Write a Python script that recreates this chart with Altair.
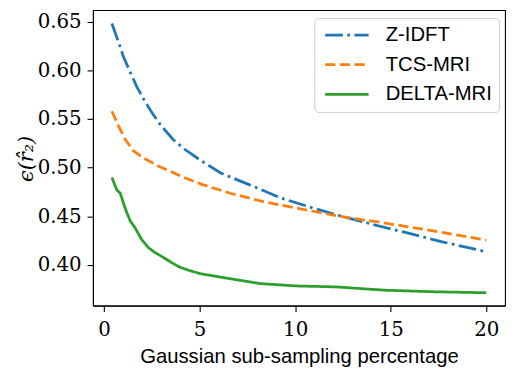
import altair as alt
import pandas as pd

# ---- data ----
series_names = ["Z-IDFT", "TCS-MRI", "DELTA-MRI"]
series_colors = ["#1f77b4", "#ff7f0e", "#2ca02c"]

zidft_x = [0.41, 0.76, 1.02, 1.36, 1.71, 2.14, 2.57, 3.0, 3.6, 4.2, 5.06, 6.1, 7.65, 9.29, 10.93, 12.3, 14.28, 15.92, 17.64, 20.0]
zidft_y = [0.648, 0.6287, 0.6136, 0.5984, 0.5832, 0.568, 0.5545, 0.5427, 0.5292, 0.5191, 0.5073, 0.4945, 0.482, 0.4685, 0.4584, 0.4508, 0.4405, 0.4326, 0.424, 0.4135]

tcs_x = [0.41, 0.76, 1.1, 1.53, 2.05, 2.8, 4.12, 5.15, 6.6, 8.34, 10.06, 12.13, 14.7, 17.3, 20.0]
tcs_y = [0.5579, 0.5427, 0.5292, 0.5174, 0.510, 0.502, 0.4904, 0.4825, 0.4736, 0.465, 0.4584, 0.4506, 0.443, 0.4347, 0.4256]

delta_x = [0.41, 0.67, 0.85, 1.1, 1.36, 1.62, 1.96, 2.31, 2.66, 3.09, 3.51, 3.95, 4.47, 5.06, 6.6, 8.17, 10.06, 12.13, 14.7, 17.3, 20.0]
delta_y = [0.4898, 0.477, 0.4736, 0.4584, 0.4455, 0.4382, 0.4263, 0.4179, 0.4128, 0.4078, 0.4027, 0.3977, 0.3942, 0.3909, 0.3858, 0.3808, 0.3784, 0.3774, 0.374, 0.3724, 0.3714]

x_ticks = [0, 5, 10, 15, 20]
y_ticks = [0.40, 0.45, 0.50, 0.55, 0.60, 0.65]

rows = []
for name, xs, ys in zip(series_names, [zidft_x, tcs_x, delta_x], [zidft_y, tcs_y, delta_y]):
    for xv, yv in zip(xs, ys):
        rows.append({"pct": xv, "err": yv, "method": name})
df = pd.DataFrame(rows)

lw = 2.8
dashes = [[6.4 * lw, 1.6 * lw, 1.0 * lw, 1.6 * lw], [3.7 * lw, 1.6 * lw], [1, 0]]

serif_font = "DejaVu Serif"
sans_font = "Liberation Sans"

chart = (
    alt.Chart(df)
    .mark_line(strokeWidth=lw, strokeCap="butt")
    .encode(
        x=alt.X(
            "pct:Q",
            scale=alt.Scale(domain=[-0.58, 20.98], nice=False, zero=False),
            axis=alt.Axis(
                values=x_ticks,
                format="d",
                title="Gaussian sub-sampling percentage",
                labelBaseline="alphabetic",
                labelPadding=24,
                titleY=58,
                titleBaseline="alphabetic",
                titleFont=sans_font,
                titleFontSize=20.5,
            ),
        ),
        y=alt.Y(
            "err:Q",
            scale=alt.Scale(domain=[0.3582, 0.6618], nice=False, zero=False),
            axis=alt.Axis(
                values=y_ticks,
                format=".2f",
                title="ϵ(r̂₂)",
                labelPadding=6,
                titleX=-67,
                titleY=150,
                titleAngle=-90,
                titleAlign="center",
                titleBaseline="middle",
                titleFont=serif_font,
                titleFontStyle="italic",
                titleFontSize=21,
            ),
        ),
        color=alt.Color(
            "method:N",
            scale=alt.Scale(domain=series_names, range=series_colors),
            legend=alt.Legend(title=None),
        ),
        strokeDash=alt.StrokeDash(
            "method:N",
            scale=alt.Scale(domain=series_names, range=dashes),
            legend=alt.Legend(title=None),
        ),
    )
    .properties(
        width=417,
        height=299,
        autosize=alt.AutoSizeParams(type="none"),
        padding={"left": 86, "top": 0, "right": 2, "bottom": 62},
    )
    .configure_view(stroke="black", strokeWidth=1.1)
    .configure_axis(
        grid=False,
        domainColor="black",
        domainWidth=1.1,
        tickColor="black",
        tickWidth=1.1,
        tickSize=6,
        labelFont=serif_font,
        labelFontSize=20,
        labelColor="black",
        titleColor="black",
        titleFontWeight="normal",
    )
    .configure_legend(
        orient="none",
        legendX=224,
        legendY=8,
        padding=7,
        rowPadding=9,
        cornerRadius=4,
        fillColor="rgba(255,255,255,0.8)",
        strokeColor="#cccccc",
        symbolType="M-3,0H3",
        symbolSize=215,
        symbolStrokeWidth=lw,
        symbolOffset=15.7,
        labelOffset=29,
        labelFont=sans_font,
        labelFontSize=20.5,
        labelColor="black",
        labelLimit=300,
    )
)

chart.save("out.html", embed_options={"renderer": "svg", "actions": False})
